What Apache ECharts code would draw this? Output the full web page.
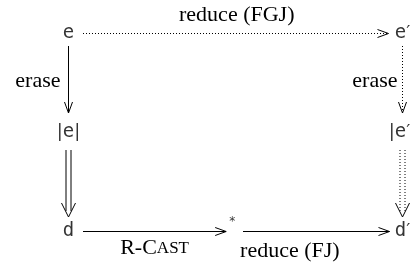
<!DOCTYPE html>
<html>
<head>
<meta charset="utf-8">
<script src="https://cdn.jsdelivr.net/npm/echarts@6/dist/echarts.min.js"></script>
<style>
html, body { margin: 0; padding: 0; background: #fff; }
#chart { width: 411px; height: 265px; }
</style>
</head>
<body>
<div id="chart"></div>
<script>
// 节点：列、行（图表坐标）
const nodeNames = ['e', "e'", '|e|', "|e'|", 'd', "d'", '*'];
const nodeCol = [0, 1, 0, 1, 0, 1, 0.49];
const nodeRow = [0, 0, 1, 1, 2, 2, 2];

// 边：起点、终点、样式、标签
const edgeFrom = [0, 0, 1, 2, 3, 4, 6];
const edgeTo = [1, 2, 3, 4, 5, 6, 5];
const edgeKind = ['dotted', 'solid', 'dotted', 'double', 'dotteddouble', 'solid', 'solid'];
const edgeLabel = ['reduce (FGJ)', 'erase', 'erase', '', '', 'R-Cast', 'reduce (FJ)'];

// 样式：端点留白（像素）和标签位置
const GAP = [[14, 14], [13, 19], [13, 19], [18, 14], [18, 14], [14, 6], [11, 13]];
const LABEL_POS = [
    { t: 0.5, dx: 1, dy: -18, align: 'center' },
    { t: 0.53, dx: -8, dy: 0, align: 'right' },
    { t: 0.53, dx: -5, dy: 0, align: 'right' },
    null, null,
    { t: 0.5, dx: 0, dy: 17, align: 'center' },
    { t: 0.32, dx: 0, dy: 20, align: 'center' }
];

const SERIF = 'Liberation Serif';
const textRich = {
    rm: { fontFamily: SERIF, fontSize: 22, color: '#000' },
    sc: { fontFamily: SERIF, fontSize: 17, color: '#000' },
    tt: { fontFamily: 'DejaVu Sans Mono', fontSize: 19, color: '#000' },
    bar: { fontFamily: 'DejaVu Sans', fontSize: 18, color: '#000' },
    pr: { fontFamily: 'DejaVu Sans', fontSize: 18, color: '#000' },
    ast: { fontFamily: 'DejaVu Sans', fontSize: 12, color: '#000' }
};

// 节点名 -> 富文本
function richName(name) {
    let out = '';
    for (const ch of name) {
        if (ch === '|') out += '{bar||}';
        else if (ch === "'") out += '{pr|\u2032}';
        else if (ch === '*') out += '{ast|*}';
        else out += '{tt|' + ch + '}';
    }
    return out;
}

// 小型大写字母（R-Cast）
function richLabel(s) {
    if (s === 'R-Cast') {
        let out = '';
        for (const ch of s) {
            if (ch >= 'a' && ch <= 'z') out += '{sc|' + ch.toUpperCase() + '}';
            else out += '{rm|' + ch + '}';
        }
        return out;
    }
    return '{rm|' + s + '}';
}

function crisp(v) { return Math.round(v - 0.5) + 0.5; }

function renderEdge(params, api) {
    const i = params.dataIndex;
    const p0 = api.coord([api.value(0), api.value(1)]);
    const p1 = api.coord([api.value(2), api.value(3)]);
    let dx = p1[0] - p0[0], dy = p1[1] - p0[1];
    const len = Math.hypot(dx, dy);
    const ux = dx / len, uy = dy / len;
    const nx = -uy, ny = ux;
    const g = GAP[i];
    let a = [p0[0] + ux * g[0], p0[1] + uy * g[0]];
    let b = [p1[0] - ux * g[1], p1[1] - uy * g[1]];
    // 水平/垂直线对齐像素（点线的点也落在整像素上）
    if (Math.abs(uy) < 1e-6) { a[1] = crisp(a[1]); b[1] = a[1]; a[0] = Math.round(a[0]); }
    if (Math.abs(ux) < 1e-6) { a[0] = crisp(a[0]); b[0] = a[0]; a[1] = Math.round(a[1]); }

    const kind = edgeKind[i];
    const dotted = kind.indexOf('dotted') === 0;
    const dbl = kind.indexOf('double') >= 0;
    const stroke = { stroke: '#000', fill: null, lineWidth: 1, lineDash: dotted ? [1, 2] : null };
    const children = [];

    if (dbl) {
        const off = 2.5, cut = 6;
        [-off, off].forEach(o => {
            children.push({
                type: 'line',
                shape: {
                    x1: a[0] + nx * o, y1: a[1] + ny * o,
                    x2: b[0] - ux * cut + nx * o, y2: b[1] - uy * cut + ny * o
                },
                style: stroke
            });
        });
    } else {
        children.push({
            type: 'line',
            shape: { x1: a[0], y1: a[1], x2: b[0], y2: b[1] },
            style: stroke
        });
    }

    // 箭头（开口 V 形）
    const hl = dbl ? 14 : 11, hw = dbl ? 7 : 4;
    children.push({
        type: 'polyline',
        shape: {
            points: [
                [b[0] - ux * hl + nx * hw, b[1] - uy * hl + ny * hw],
                [b[0], b[1]],
                [b[0] - ux * hl - nx * hw, b[1] - uy * hl - ny * hw]
            ]
        },
        style: { stroke: '#000', fill: null, lineWidth: 1 }
    });

    const lp = LABEL_POS[i];
    if (lp && edgeLabel[i]) {
        children.push({
            type: 'text',
            x: a[0] + (b[0] - a[0]) * lp.t + lp.dx,
            y: a[1] + (b[1] - a[1]) * lp.t + lp.dy,
            style: {
                text: richLabel(edgeLabel[i]),
                rich: textRich,
                align: lp.align,
                verticalAlign: 'middle'
            }
        });
    }
    return { type: 'group', children: children };
}

let chart = null;
function initChart() {
    chart = echarts.init(document.getElementById('chart'), null, { renderer: 'canvas' });

    const nodeData = nodeNames.map((n, i) => ({
        value: [nodeCol[i], nodeRow[i], n],
        label: n === '*' ? { offset: [0, -9] } : undefined
    }));
    const edgeData = edgeFrom.map((f, i) => [nodeCol[f], nodeRow[f], nodeCol[edgeTo[i]], nodeRow[edgeTo[i]]]);

    const option = {
        animation: false,
        grid: { left: 0, right: 0, top: 0, bottom: 0 },
        xAxis: { type: 'value', show: false, min: -68.5 / 334, max: (411 - 68.5) / 334 },
        yAxis: { type: 'value', show: false, inverse: true, min: -33 / 99, max: (265 - 33) / 99 },
        series: [
            {
                type: 'custom',
                renderItem: renderEdge,
                data: edgeData,
                encode: { x: [0, 2], y: [1, 3] },
                silent: true
            },
            {
                type: 'scatter',
                symbolSize: 0,
                data: nodeData,
                silent: true,
                label: {
                    show: true,
                    position: 'inside',
                    formatter: p => richName(p.data.value[2]),
                    rich: textRich
                }
            }
        ]
    };
    chart.setOption(option);
}

document.addEventListener('DOMContentLoaded', initChart);
</script>
</body>
</html>
